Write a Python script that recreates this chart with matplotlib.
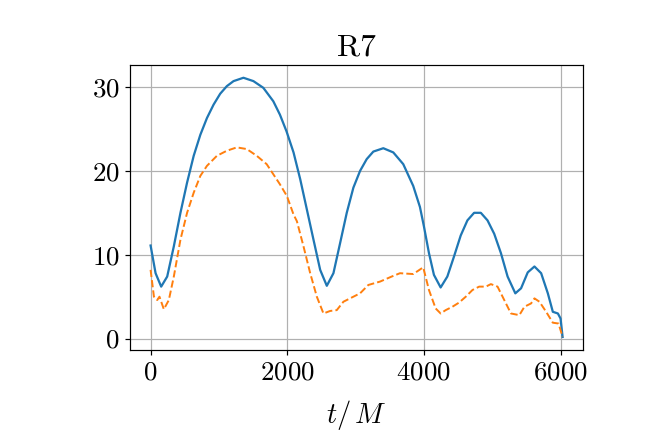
import numpy as np
import matplotlib
matplotlib.use("Agg")
import matplotlib.pyplot as plt

# R7 curves
t_blue = [0, 73, 155, 243, 340, 437, 534, 631, 728, 825, 922, 1019, 1116, 1214, 1359,
          1505, 1650, 1796, 1893, 1990, 2092, 2190, 2287, 2384, 2482, 2579, 2676, 2774,
          2871, 2968, 3066, 3163, 3260, 3406, 3552, 3698, 3844, 3942, 4000, 4074, 4147,
          4245, 4343, 4441, 4539, 4637, 4735, 4833, 4931, 5029, 5127, 5225, 5338, 5422,
          5520, 5618, 5716, 5814, 5887, 5961, 6000, 6030]
y_blue = [11.1, 7.8, 6.2, 7.4, 11.0, 15.0, 18.6, 21.8, 24.3, 26.3, 27.9, 29.2, 30.1, 30.7, 31.1,
          30.7, 29.9, 28.3, 26.7, 24.7, 22.2, 19.0, 15.4, 11.8, 8.2, 6.3, 7.8, 11.4,
          15.0, 18.0, 20.0, 21.4, 22.3, 22.7, 22.2, 20.8, 18.2, 15.7, 13.4, 10.2, 7.6,
          6.1, 7.4, 9.8, 12.3, 14.1, 15.0, 15.0, 14.1, 12.5, 10.2, 7.4, 5.4, 6.0,
          7.9, 8.6, 7.8, 5.4, 3.2, 3.0, 2.4, 0.2]

t_orange = [0, 49, 97, 130, 194, 267, 340, 437, 534, 631, 728, 825, 971, 1116, 1262,
            1408, 1553, 1699, 1796, 1893, 1995, 2092, 2141, 2238, 2336, 2433, 2530, 2628,
            2725, 2822, 2968, 3066, 3187, 3358, 3528, 3650, 3844, 3990, 4074, 4172, 4245,
            4319, 4417, 4515, 4613, 4711, 4809, 4907, 4980, 5078, 5176, 5274, 5397, 5471,
            5569, 5618, 5691, 5789, 5887, 5971, 6030]
y_orange = [8.2, 5.0, 4.6, 5.0, 3.5, 4.6, 7.4, 11.8, 15.0, 17.4, 19.4, 20.6, 21.8, 22.4, 22.8,
            22.6, 21.8, 20.8, 19.6, 18.4, 17.0, 14.8, 14.0, 11.0, 7.8, 5.0, 3.0, 3.3,
            3.4, 4.4, 5.0, 5.4, 6.4, 6.8, 7.4, 7.8, 7.7, 8.5, 5.8, 3.6, 3.0,
            3.4, 3.8, 4.3, 5.0, 5.8, 6.2, 6.2, 6.5, 6.2, 4.6, 3.0, 2.8, 3.8,
            4.2, 4.8, 4.4, 3.2, 1.9, 1.8, 0.2]

plt.rcParams["font.family"] = "serif"
plt.rcParams["font.serif"] = ["cmr10"]
plt.rcParams["mathtext.fontset"] = "cm"
plt.rcParams["axes.unicode_minus"] = False
plt.rcParams["axes.formatter.use_mathtext"] = True

fig = plt.figure(figsize=(6, 4), dpi=108)
ax = fig.add_axes([0.2006, 0.19, 0.6994, 0.66])

ax.plot(t_blue, y_blue, color="C0", lw=1.5)
ax.plot(t_orange, y_orange, color="C1", lw=1.3, ls="--")

ax.set_title("R7", fontsize=21)
ax.set_xlabel(r"$t/\,M$", fontsize=19, labelpad=9)
ax.set_xticks([0, 2000, 4000, 6000])
ax.set_yticks([0, 10, 20, 30])
ax.tick_params(labelsize=18)
ax.grid(True)

fig.savefig("out.png", dpi=108)
